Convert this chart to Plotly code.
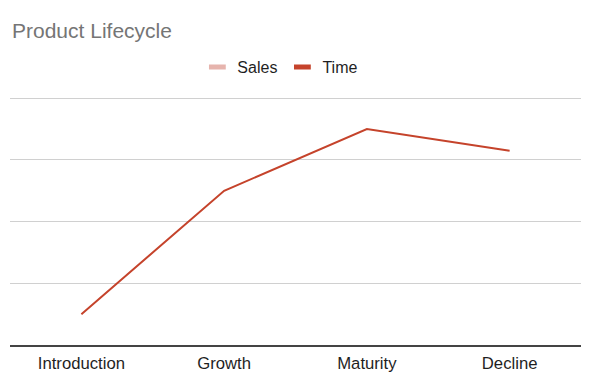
import plotly.graph_objects as go

categories = ["Introduction", "Growth", "Maturity", "Decline"]
time_values = [10, 50, 70, 63]
sales_values = [None, None, None, None]
series_names = ["Sales", "Time"]
series_colors = ["#e6b4ad", "#c5432b"]

# page body has an 8px margin; figure is sized to fit the window
W, H = 592, 384
OFF = 8

fig = go.Figure()

# Sales series (no visible data)
fig.add_trace(go.Scatter(x=categories, y=sales_values, mode="lines",
                         line=dict(color=series_colors[0], width=2),
                         showlegend=False, hoverinfo="skip"))
# Time series
fig.add_trace(go.Scatter(x=categories, y=time_values, mode="lines",
                         line=dict(color=series_colors[1], width=2),
                         showlegend=False))

# legend entries with short thick swatches
for name, color in zip(series_names, series_colors):
    fig.add_trace(go.Scatter(x=[None], y=[None], mode="markers", name=name,
                             marker=dict(symbol="line-ew", size=12,
                                         line=dict(color=color, width=5))))

fig.update_layout(
    width=W, height=H,
    margin=dict(l=10 - OFF, r=19, t=97 - OFF, b=47, pad=0),
    paper_bgcolor="white", plot_bgcolor="white",
    font=dict(family="Liberation Sans, Arial, sans-serif", color="#1f1f1f"),
    title=dict(text="Product Lifecycle", x=(12 - OFF) / W, xref="container", xanchor="left",
               y=1 - (31 - OFF) / H, yref="container", yanchor="middle",
               font=dict(size=21, color="#757575")),
    legend=dict(orientation="h", x=0.4735, xanchor="center", y=1 - (67 - OFF) / H,
                yref="container", yanchor="middle", font=dict(size=16, color="#1f1f1f"),
                itemwidth=30, traceorder="normal"),
    xaxis=dict(type="category", range=[-0.5, 3.5], showgrid=False,
               showline=True, linecolor="#444444", linewidth=1.5,
               ticks="", tickfont=dict(size=16.7, color="#1f1f1f"),
               ticklabelstandoff=2, fixedrange=True),
    yaxis=dict(range=[0, 80.4], tickvals=[20, 40, 60, 80], showgrid=True,
               gridcolor="#d0d0d0", gridwidth=1, showticklabels=False,
               zeroline=False, ticks="", fixedrange=True),
)

fig.write_html("out.html")
